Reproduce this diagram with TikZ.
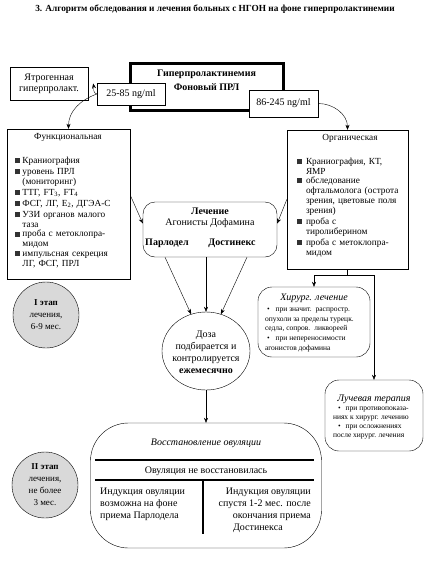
\documentclass[tikz,border=0pt]{standalone}
\usepackage{fontspec}
\setmainfont{Liberation Serif}
\usetikzlibrary{shapes.geometric,arrows.meta}

\tikzset{>={Stealth[length=5pt,width=4pt]}}

% bullet of the lists
\newcommand\chk{\textcolor{black!80}{\rule[0.2pt]{5pt}{5pt}}}
\newcommand\itm[2][7.5pt]{\par\noindent\hbox to #1{\chk\hfil}\parbox[t]{98pt}{\raggedright #2}}

\begin{document}
\begin{tikzpicture}[x=1pt,y=-1pt,
  box/.style={draw, rectangle, inner sep=0pt},
  rbox/.style={draw, rectangle, rounded corners=14pt, inner sep=0pt},
  txt/.style={font=\fontsize{10}{12}\selectfont, align=center, inner sep=0pt},
  small/.style={font=\fontsize{7.5}{9.7}\selectfont, align=left, inner sep=0pt},
  lst/.style={text width=106pt, inner sep=0pt, font=\fontsize{9.3}{10}\selectfont},
  stage/.style={draw, circle, fill=black!15, minimum size=66pt, inner sep=0pt,
    align=center, font=\fontsize{9}{12}\selectfont}]

\useasboundingbox (0,0) rectangle (432,563);

\node[font=\bfseries\fontsize{9.3}{10}\selectfont] (title) at (215,9.5)
  {3. Алгоритм обследования и лечения больных с НГОН на фоне гиперпролактинемии};

% Top row
\node[box, line width=3pt, minimum width=153pt, minimum height=47pt] (hyper) at (206.5,86.5) {};
\node[txt, font=\bfseries\fontsize{10}{14}\selectfont] (hypertxt) at (206.5,80.5) {Гиперпролактинемия\\Фоновый ПРЛ};
\node[box, txt, font=\fontsize{10}{11}\selectfont, minimum width=78pt, minimum height=33pt] (jatro) at (49,83.5) {Ятрогенная\\гиперпролакт.};
\node[box, txt, fill=white, minimum width=68pt, minimum height=22pt] (low) at (131,94) {25-85 ng/ml};
\node[box, txt, fill=white, minimum width=69pt, minimum height=27pt] (high) at (283.5,103.5) {86-245 ng/ml};

% Lists
\node[box, minimum width=123pt, minimum height=150pt] (func) at (68.5,204) {};
\node[lst, anchor=north west] (functxt) at ([xshift=8pt,yshift=-4pt]func.north west) {%
  \parindent=0pt
  {\centering Функциональная\par}\vspace{13pt}
  \setlength\parskip{1.3pt}
  \itm{Краниография}
  \itm{уровень ПРЛ\\(мониторинг)}
  \itm{ТТГ, FT\textsubscript{3}, FT\textsubscript{4}}
  \itm{ФСГ, ЛГ, Е\textsubscript{2}, ДГЭА-С}
  \itm{УЗИ органов малого\\таза}
  \itm{проба с метоклопра-\\мидом}
  \itm{импульсная секреция\\ЛГ, ФСГ, ПРЛ}};

\node[box, minimum width=121pt, minimum height=139pt] (org) at (347.5,199.5) {};
\node[lst, anchor=north west] (orgtxt) at ([xshift=10pt,yshift=-4pt]org.north west) {%
  \parindent=0pt
  {\centering Органическая\par}\vspace{13pt}
  \setlength\parskip{1.3pt}
  \itm[9pt]{Краниография, КТ,\\ЯМР}
  \itm[9pt]{обследование\\офтальмолога (острота\\зрения, цветовые поля\\зрения)}
  \itm[9pt]{проба с\\тиролиберином}
  \itm[9pt]{проба с метоклопра-\\мидом}};

\draw[->] (low.west) to[out=170, in=-80] ([xshift=5pt]jatro.east);
\draw[->] (low.west) to[out=200, in=90] (func.north);
\draw[->] (high.east) to[out=0, in=90] (org.north);

% Treatment
\node[rbox, rounded corners=12pt, minimum width=134pt, minimum height=55pt] (treat) at (210,229.5) {};
\node[txt, font=\fontsize{10}{11}\selectfont] (treattxt) at (210,217.5) {\textbf{Лечение}\\Агонисты Дофамина};
\node[txt, font=\bfseries\fontsize{10}{12}\selectfont] (parl) at (167,243) {Парлодел};
\node[txt, font=\bfseries\fontsize{10}{12}\selectfont] (dost) at (232,243) {Достинекс};

\draw[->] ([yshift=9pt]func.east) -- ([yshift=6pt]treat.west);
\draw[->] (org.west) -- ([yshift=6pt]treat.east);

\node[draw, ellipse, minimum width=88pt, minimum height=78pt, inner sep=0pt] (dose) at (206,351) {};
\node[txt] (dosetxt) at ([yshift=-1pt]dose.center) {Доза\\подбирается и\\контролируется\\\textbf{ежемесячно}};

\draw[->] ([xshift=-45pt]treat.south) -- (dose.112);
\draw[->] (dose.north |- treat.south) -- (dose.north);
\draw[->] ([xshift=37pt]treat.south) -- (dose.68);

% Surgery and radiotherapy
\node[rbox, minimum width=112pt, minimum height=70pt] (surg) at (314,322) {};
\node[txt, font=\itshape\fontsize{10}{12}\selectfont] (surgtitle) at ([yshift=-12pt]surg.north) {Хирург. лечение};
\node[small, anchor=north west] (surgtxt) at ([xshift=7pt,yshift=-21pt]surg.north west) {%
  \hspace*{2pt}•\hspace{6pt}при значит.\hspace{4pt}распростр.\\
  опухоли за пределы турецк.\\
  седла, сопров.\hspace{4pt}ликвореей\\
  \hspace*{2pt}•\hspace{6pt}при непереносимости\\
  агонистов дофамина};

\node[rbox, minimum width=98pt, minimum height=71pt] (rad) at (374,415.5) {};
\node[txt, font=\itshape\fontsize{10}{12}\selectfont] (radtitle) at ([yshift=-19pt]rad.north) {Лучевая терапия};
\node[small, font=\fontsize{7.5}{9}\selectfont, anchor=north west] (radtxt) at ([xshift=8pt,yshift=-27pt]rad.north west) {%
  \hspace*{5pt}•\hspace{5pt}при противопоказа-\\
  ниях к хирург. лечению\\
  \hspace*{5pt}•\hspace{5pt}при осложнениях\\
  после хирург. лечения};

\coordinate (fork) at ([yshift=-6pt]org.south);
\draw (org.south) -- (fork);
\draw[->] (fork) -| (surg.north);
\draw[->] (fork) -| (rad.north);

% Ovulation
\node[draw, rectangle, rounded corners=38pt, minimum width=231pt, minimum height=125pt] (big) at (206,485.5) {};
\draw[->] (dose.south) -- (big.north);

\node[txt, font=\itshape\fontsize{10}{12}\selectfont] (restore) at (206,443) {Восстановление овуляции};
\draw[line width=2pt] (95,460) -- (314,460);
\node[txt] (noovul) at (206,471) {Овуляция не восстановилась};
\draw[line width=2pt] (95,480) -- (314,480);
\draw[line width=2pt] (203,480) -- (203,534);
\node[txt, align=left, anchor=north west] (indleft) at (100,488) {Индукция овуляции\\возможна на фоне\\приема Парлодела};
\node[txt, align=right, anchor=north east] (indright) at (311,488) {Индукция овуляции\\спустя 1-2 мес. после\\окончания приема\\Достинекса\hspace*{28pt}};

% Stages
\node[stage] (st1) at (46,315) {\textbf{I этап}\\лечения,\\6-9 мес.};
\node[stage] (st2) at (45,485) {\textbf{II этап}\\лечения,\\не более\\3 мес.};

\end{tikzpicture}
\end{document}
